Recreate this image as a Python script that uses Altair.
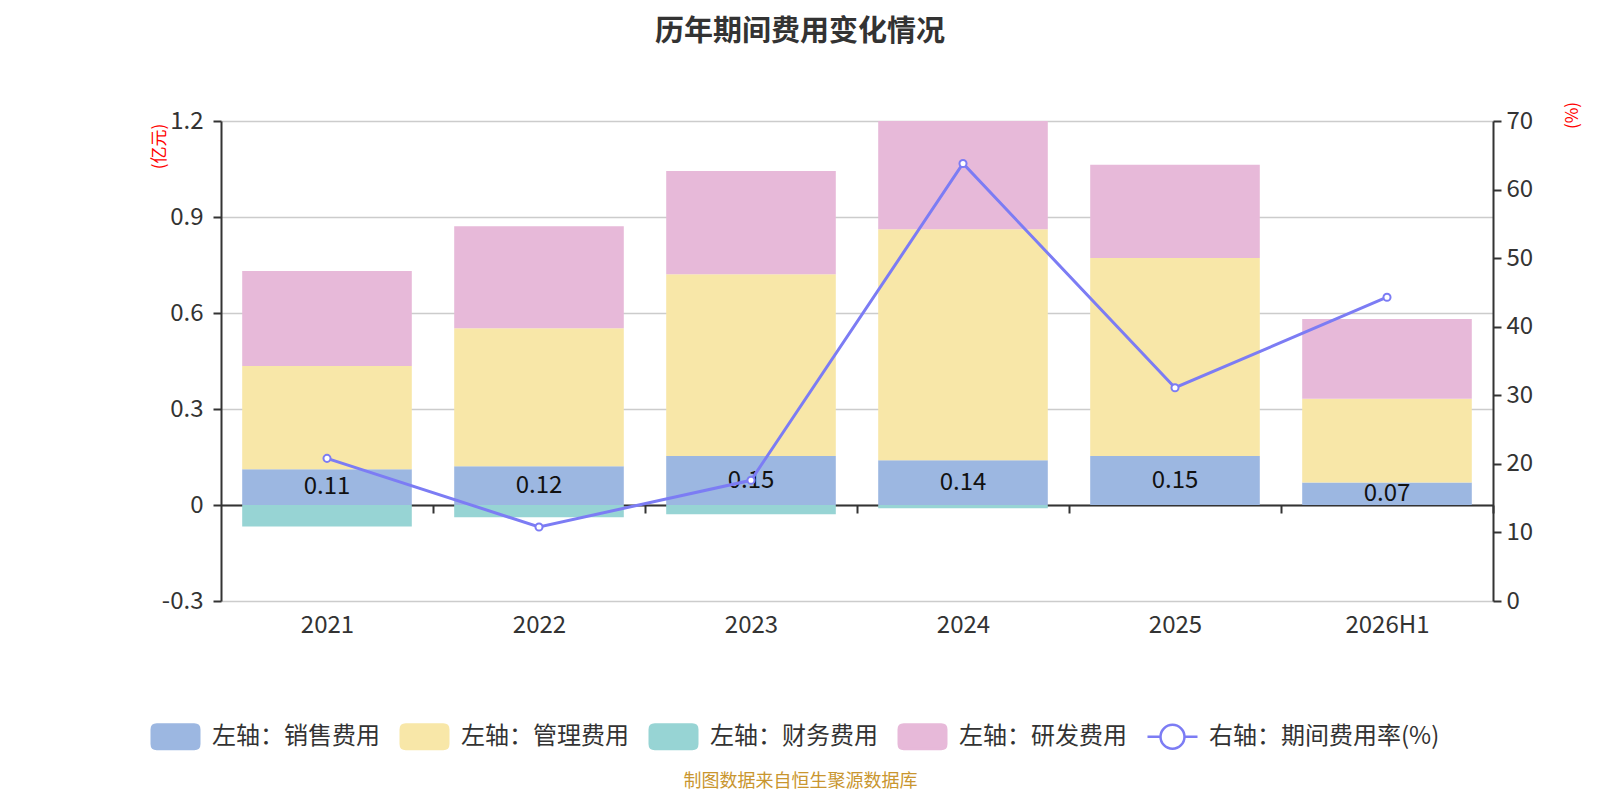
import altair as alt
import pandas as pd

FONT = "Noto Sans CJK SC"

# ---------------- data ----------------
years = ["2021", "2022", "2023", "2024", "2025", "2026H1"]
sales = [0.112, 0.121, 0.153, 0.140, 0.153, 0.070]       # 销售费用
admin = [0.322, 0.431, 0.568, 0.722, 0.619, 0.262]       # 管理费用
finance = [-0.067, -0.038, -0.029, -0.010, 0.0, 0.0]     # 财务费用
rnd = [0.297, 0.319, 0.323, 0.338, 0.291, 0.249]         # 研发费用
rate = [20.8, 10.8, 17.6, 63.8, 31.1, 44.3]              # 期间费用率(%)
sales_labels = ["0.11", "0.12", "0.15", "0.14", "0.15", "0.07"]

series_names = ["左轴：销售费用", "左轴：管理费用", "左轴：财务费用", "左轴：研发费用", "右轴：期间费用率(%)"]
fill_colors = ["#9CB7E1", "#F8E7A8", "#97D4D4", "#E7B9D9", "#FFFFFF"]
stroke_colors = ["#9CB7E1", "#F8E7A8", "#97D4D4", "#E7B9D9", "#7C7CF4"]

left_ticks = [-0.3, 0, 0.3, 0.6, 0.9, 1.2]
right_ticks = [0, 10, 20, 30, 40, 50, 60, 70]

# legend symbol shapes (unit box -1..1)
RECT = ("M-0.75,-0.49 L0.75,-0.49 Q0.95,-0.49 0.95,-0.29 L0.95,0.29 Q0.95,0.49 0.75,0.49 "
        "L-0.75,0.49 Q-0.95,0.49 -0.95,0.29 L-0.95,-0.29 Q-0.95,-0.49 -0.75,-0.49 Z")
LINE_CIRCLE = ("M-1,0 L-0.48,0 M0.48,0 L1,0 M-0.48,0 A0.48,0.48 0 1 1 0.48,0 "
               "A0.48,0.48 0 1 1 -0.48,0 Z")

rows = []
for i, yr in enumerate(years):
    for k, vals in enumerate([sales, admin, finance, rnd]):
        rows.append({"year": yr, "series": series_names[k], "order": k, "value": vals[i]})
bar_df = pd.DataFrame(rows)
label_df = pd.DataFrame({"year": years, "sales": sales, "label": sales_labels})
rate_df = pd.DataFrame({"year": years, "rate": rate, "series": [series_names[4]] * len(years)})

# ---------------- scales / legend ----------------
fill_scale = alt.Scale(domain=series_names, range=fill_colors)
stroke_scale = alt.Scale(domain=series_names, range=stroke_colors)
shape_scale = alt.Scale(domain=series_names, range=[RECT] * 4 + [LINE_CIRCLE])

legend = alt.Legend(
    title=None, orient="none", legendX=-72, legendY=589, direction="horizontal",
    columns=5, symbolSize=2500, symbolStrokeWidth=2.5, symbolFillColor="#ffffff",
    symbolStrokeColor="#ffffff", symbolOpacity=1, labelFont=FONT, labelFontSize=24,
    labelColor="#333333", labelOffset=10, columnPadding=15, padding=0, labelLimit=0,
)

X = alt.X(
    "year:N", sort=years,
    scale=alt.Scale(domain=years, paddingInner=0.2, paddingOuter=0.1),
    axis=alt.Axis(
        title="制图数据来自恒生聚源数据库", titleColor="#C9962F", titleFontSize=18,
        titleFontWeight="normal", titleFont=FONT, titleX=579, titleY=276,
        titleAlign="center", titleBaseline="middle", titleAngle=0,
        offset=-96, domainColor="#333333", domainWidth=2, tickColor="#333333",
        tickWidth=2, tickSize=8, tickOffset=106, labelOffset=-106,
        labelFont=FONT, labelFontSize=24,
        labelColor="#333333", labelPadding=100, labelAngle=0, grid=False,
    ),
)

left_axis = alt.Axis(
    orient="left", values=left_ticks,
    labelExpr="datum.value == 0 ? '0' : (datum.value < 0 ? '-' : '') + format(abs(datum.value), '.1f')",
    title="(亿元)", titleColor="#FF0000", titleFont=FONT, titleFontSize=17,
    titleFontWeight="normal", titleAngle=270, titleX=-62, titleY=25,
    titleAlign="center", titleBaseline="middle",
    grid=True, gridColor="#CCCCCC", gridWidth=1.5, domainColor="#333333", domainWidth=2,
    tickColor="#333333", tickWidth=2, tickSize=8, labelFont=FONT, labelFontSize=24,
    labelColor="#333333", labelPadding=10,
)
left_scale = alt.Scale(domain=[-0.3, 1.2], nice=False, zero=False)

right_axis = alt.Axis(
    orient="right", values=right_ticks, format="d",
    title="(%)", titleColor="#FF0000", titleFont=FONT, titleFontSize=17,
    titleFontWeight="normal", titleAngle=270, titleX=79, titleY=-6,
    titleAlign="center", titleBaseline="middle",
    grid=False, domainColor="#333333", domainWidth=2,
    tickColor="#333333", tickWidth=2, tickSize=8, labelFont=FONT, labelFontSize=24,
    labelColor="#333333", labelPadding=5,
)
right_scale = alt.Scale(domain=[0, 70], nice=False)

# ---------------- layers ----------------
bars = alt.Chart(bar_df).mark_bar().encode(
    x=X,
    y=alt.Y("value:Q", stack="zero", scale=left_scale, axis=left_axis),
    fill=alt.Fill("series:N", scale=fill_scale, legend=legend),
    order=alt.Order("order:Q", sort="ascending"),
)

labels = alt.Chart(label_df).transform_calculate(
    mid="datum.sales / 2"
).mark_text(font=FONT, fontSize=24, color="#111111", baseline="middle", align="center").encode(
    x=X,
    y=alt.Y("mid:Q", scale=left_scale, axis=left_axis),
    text="label:N",
)

line = alt.Chart(rate_df).mark_line(strokeWidth=3).encode(
    x=X,
    y=alt.Y("rate:Q", scale=right_scale, axis=right_axis),
    stroke=alt.Stroke("series:N", scale=stroke_scale, legend=legend),
)

points = alt.Chart(rate_df).mark_point(filled=True, size=50, strokeWidth=2, opacity=1).encode(
    x=X,
    y=alt.Y("rate:Q", scale=right_scale, axis=right_axis),
    fill=alt.Fill("series:N", scale=fill_scale, legend=legend),
    stroke=alt.Stroke("series:N", scale=stroke_scale, legend=legend),
)

legend_layer = alt.Chart(rate_df).transform_filter("false").mark_point(filled=True, opacity=1).encode(
    x=X,
    y=alt.Y("rate:Q", scale=right_scale, axis=right_axis),
    fill=alt.Fill("series:N", scale=fill_scale, legend=legend),
    stroke=alt.Stroke("series:N", scale=stroke_scale, legend=legend),
    shape=alt.Shape("series:N", scale=shape_scale, legend=legend),
)

left = alt.layer(bars, labels)
right = alt.layer(line, points, legend_layer)

chart = alt.layer(left, right).resolve_scale(y="independent").properties(
    width=1272,
    height=480,
    padding={"left": 213, "top": 113, "right": 90, "bottom": 191},
    autosize=alt.AutoSizeParams(type="none"),
    title=alt.TitleParams(
        "历年期间费用变化情况", fontSize=29, fontWeight="bold", color="#333333",
        font=FONT, anchor="middle", frame="group", dx=-57, offset=54,
    ),
).configure_view(stroke=None)

chart.save("out.html", embed_options={"renderer": "svg", "actions": False})
